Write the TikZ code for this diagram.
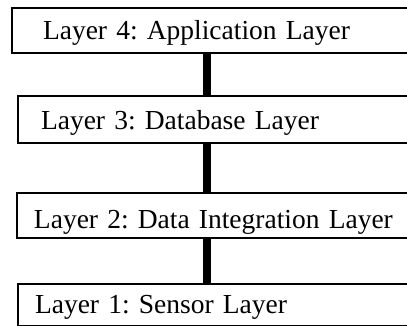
\documentclass[tikz,border=0pt]{standalone}
\usepackage{fontspec}
\setmainfont{Liberation Serif}
\usetikzlibrary{positioning, calc}
\tikzset{
  every picture/.style={line width=2pt},
  layerbox/.style={draw, anchor=north west, align=left, inner ysep=0pt,
    text width=420pt, font=\fontsize{27.5pt}{32pt}\selectfont\frenchspacing},
  link/.style={draw, line width=8pt},
}

\begin{document}
\begin{tikzpicture}[x=1pt, y=-1pt]
  \useasboundingbox (0,0) rectangle (407,326);
  \node[layerbox, inner xsep=31pt, text height=32pt, text depth=13pt] (app) at (11,7) {Layer 4: Application Layer};
  \node[layerbox, inner xsep=23pt, text height=34pt, text depth=13pt] (db) at (17,95) {Layer 3: Database Layer};
  \node[layerbox, inner xsep=17pt, text height=35pt, text depth=10pt] (integ) at (16,192) {Layer 2: Data Integration Layer};
  \node[layerbox, inner xsep=17pt, text height=29pt, text depth=13pt] (sensor) at (17,283) {Layer 1: Sensor Layer};
  \coordinate (spine) at (207,0);
  \draw[link] (spine |- app.south) -- (spine |- db.north);
  \draw[link] (spine |- db.south) -- (spine |- integ.north);
  \draw[link] (spine |- integ.south) -- (spine |- sensor.north);
\end{tikzpicture}
\end{document}
